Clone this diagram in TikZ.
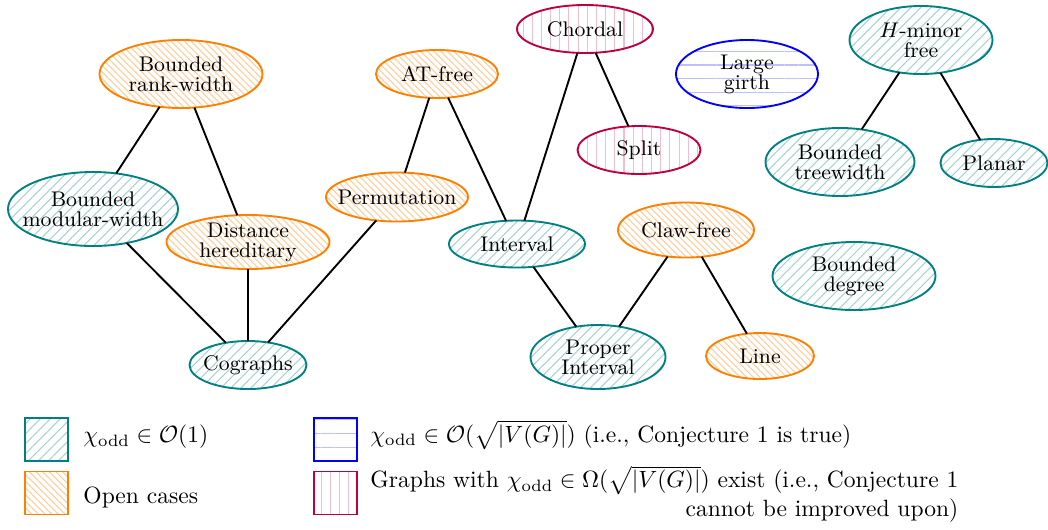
\documentclass[tikz,border=0pt]{standalone}
\usetikzlibrary{shapes.geometric,patterns.meta}
\begin{document}
\begin{tikzpicture}[x=0.425pt,y=-0.425pt,
  sz/.style 2 args={minimum width=#1*0.425pt, minimum height=#2*0.425pt},
  gnode/.style={ellipse, thick, inner sep=0pt, outer sep=0pt},
  txt/.style={label={[font=\small\setlength{\baselineskip}{8.5pt}, align=center, inner sep=0pt]center:#1}},
  cO/.style={draw=teal, pattern={Lines[angle=45,distance=3pt,line width=0.45pt]}, pattern color=teal!35},
  cOpen/.style={draw=orange, pattern={Lines[angle=-45,distance=2pt,line width=0.45pt]}, pattern color=orange!40},
  cSq/.style={draw=blue, pattern={Lines[angle=0,distance=5.8pt,line width=0.45pt]}, pattern color=blue!25},
  cOm/.style={draw=purple, pattern={Lines[angle=90,distance=3.9pt,line width=0.45pt]}, pattern color=purple!25},
  conn/.style={thick},
  legbox/.style={rectangle, thick, inner sep=0pt, minimum size=43*0.425pt},
  legtext/.style={anchor=west, inner sep=0pt, font=\normalsize}
]
\useasboundingbox (0,0) rectangle (1048,529);

% nodes
\node[gnode,cOpen,sz={163}{68},txt={Bounded\\rank-width}] (brw) at (181,74) {};
\node[gnode,cO,sz={170}{74},txt={Bounded\\modular-width}] (bmw) at (93,209) {};
\node[gnode,cOpen,sz={163}{54},txt={Distance\\hereditary}] (dh) at (248,242) {};
\node[gnode,cOpen,sz={122}{48},txt={AT-free}] (atf) at (437,74) {};
\node[gnode,cOpen,sz={142}{49},txt={Permutation}] (perm) at (397,197) {};
\node[gnode,cOm,sz={136}{48},txt={Chordal}] (chord) at (585,29) {};
\node[gnode,cOm,sz={123}{48},txt={Split}] (split) at (639,150) {};
\node[gnode,cSq,sz={142}{68},txt={Large\\girth}] (girth) at (747,74) {};
\node[gnode,cO,sz={143}{68},txt={$H$-minor\\free}] (hmf) at (921,40) {};
\node[gnode,cO,sz={149}{68},txt={Bounded\\treewidth}] (btw) at (840,162) {};
\node[gnode,cO,sz={107}{48},txt={Planar}] (planar) at (994,163) {};
\node[gnode,cO,sz={136}{47},txt={Interval}] (interval) at (517,244) {};
\node[gnode,cOpen,sz={136}{55},txt={Claw-free}] (claw) at (686,230) {};
\node[gnode,cO,sz={163}{68},txt={Bounded\\degree}] (bdeg) at (854,276) {};
\node[gnode,cO,sz={135}{64},txt={Proper\\Interval}] (proper) at (598,357) {};
\node[gnode,cOpen,sz={108}{46},txt={Line}] (line) at (760,356) {};
\node[gnode,cO,sz={117}{48},txt={Cographs}] (cog) at (248,365) {};

% connectors
\draw[conn] (brw) -- (bmw);
\draw[conn] (brw) -- (dh);
\draw[conn] (bmw) -- (cog);
\draw[conn] (dh) -- (cog);
\draw[conn] (perm) -- (cog);
\draw[conn] (atf) -- (perm);
\draw[conn] (atf) -- (interval);
\draw[conn] (chord) -- (interval);
\draw[conn] (chord) -- (split);
\draw[conn] (interval) -- (proper);
\draw[conn] (claw) -- (proper);
\draw[conn] (claw) -- (line);
\draw[conn] (hmf) -- (btw);
\draw[conn] (hmf) -- (planar);

% legend
\node[legbox,cO] (lb1) at (46.5,439.5) {};
\node[legbox,cOpen] (lb2) at (46.5,493) {};
\node[legbox,cSq] (lb3) at (335.5,439.5) {};
\node[legbox,cOm] (lb4) at (335.5,493) {};
\node[legtext] (lt1) at (83,437) {$\chi_{\mathrm{odd}} \in \mathcal{O}(1)$};
\node[legtext] (lt2) at (83,497) {Open cases};
\node[legtext] (lt3) at (370,435) {$\chi_{\mathrm{odd}} \in \mathcal{O}(\sqrt{|V(G)|})$ (i.e., Conjecture 1 is true)};
\node[legtext,align=right] (lt4) at (370,494) {Graphs with $\chi_{\mathrm{odd}} \in \Omega(\sqrt{|V(G)|})$ exist (i.e., Conjecture 1\\cannot be improved upon)};
\end{tikzpicture}
\end{document}
